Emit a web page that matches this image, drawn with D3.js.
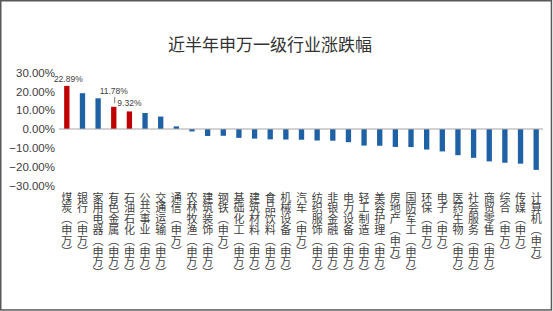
<!DOCTYPE html>
<html>
<head>
<meta charset="utf-8">
<script src="https://cdn.jsdelivr.net/npm/d3@7"></script>
<style>
  body { margin: 0; background: #fff; }
  svg { display: block; }
</style>
</head>
<body>
<svg width="553" height="311"></svg>
<script>
"use strict";
// industries, sorted by half-year return
let industries = ["煤炭", "银行", "家用电器", "有色金属", "石油石化", "公共事业", "交通运输", "通信",
    "农林牧渔", "建筑装饰", "钢铁", "基础化工", "建筑材料", "食品饮料", "机械设备", "汽车",
    "纺织服饰", "非银金融", "电力设备", "轻工制造", "美容护理", "房地产", "国防军工", "环保",
    "电子", "医药生物", "社会服务", "商贸零售", "综合", "传媒", "计算机"];
let returns = [22.89, 19.0, 16.3, 11.78, 9.32, 8.5, 6.6, 1.4,
    -1.3, -3.7, -3.6, -4.7, -5.1, -5.5, -5.6, -5.7,
    -6.1, -6.2, -7.0, -8.8, -8.9, -9.5, -9.6, -10.9,
    -11.9, -13.9, -15.3, -17.2, -17.9, -18.4, -21.7];
let highlighted = ["煤炭", "有色金属", "石油石化"];
let yTicks = [30, 20, 10, 0, -10, -20, -30];

let svg = d3.select("svg"),
    width = +svg.attr("width"),
    height = +svg.attr("height");

let data = industries.map((name, i) => ({ name: name, value: returns[i] }));

let x = d3.scaleBand().domain(industries).range([59, 544]).paddingInner(0.66).paddingOuter(0.33);
let y = d3.scaleLinear().domain([-30, 30]).range([185.5, 72.5]);

// frame
svg.append("rect")
    .attr("x", 0.75).attr("y", 0.75)
    .attr("width", width - 2.3).attr("height", height - 1.8)
    .attr("fill", "none").attr("stroke", "#595959").attr("stroke-width", 1.5);

svg.append("text")
    .attr("x", 270).attr("y", 43)
    .attr("text-anchor", "middle")
    .attr("dominant-baseline", "central")
    .style("font-family", "'Noto Sans CJK SC', sans-serif")
    .style("font-size", "17px")
    .attr("fill", "#333")
    .text("近半年申万一级行业涨跌幅");

// y axis, labels only
let yAxis = d3.axisLeft(y)
    .tickValues(yTicks)
    .tickSize(0)
    .tickPadding(0)
    .tickFormat(d => (d < 0 ? "\u2212" : "") + Math.abs(d).toFixed(2) + "%");
let ga = svg.append("g").attr("transform", "translate(55,0)").call(yAxis);
ga.select(".domain").remove();
ga.selectAll("text")
    .style("font-family", "'Liberation Sans', Arial, sans-serif")
    .style("font-size", "11.5px")
    .attr("fill", "#404040");

// bars
svg.append("g").selectAll("rect")
    .data(data)
    .enter().append("rect")
    .attr("x", d => x(d.name))
    .attr("width", x.bandwidth())
    .attr("y", d => y(Math.max(0, d.value)))
    .attr("height", d => Math.abs(y(d.value) - y(0)))
    .attr("fill", d => highlighted.includes(d.name) ? "#c00000" : "#1f61a5");

// zero line
svg.append("line")
    .attr("x1", 59).attr("x2", 543)
    .attr("y1", y(0)).attr("y2", y(0))
    .attr("stroke", "#a6a6a6").attr("stroke-width", 1);

// value labels for highlighted bars
let lab = data.filter(d => highlighted.includes(d.name));
let lift = { "煤炭": 3.4, "有色金属": 12.5, "石油石化": 5.7 };
svg.append("g").selectAll("text")
    .data(lab)
    .enter().append("text")
    .attr("x", d => x(d.name) + x.bandwidth() / 2 + (d.name === "煤炭" ? 1.5 : 0))
    .attr("y", d => y(d.value) - lift[d.name])
    .attr("text-anchor", "middle")
    .style("font-family", "'Liberation Sans', Arial, sans-serif")
    .style("font-size", "8.5px")
    .attr("fill", "#404040")
    .text(d => d.value.toFixed(2) + "%");

// leader line for the lifted label
let lifted = lab.find(d => d.name === "有色金属");
svg.append("line")
    .attr("x1", x(lifted.name) + x.bandwidth() / 2 + 1).attr("x2", x(lifted.name) + x.bandwidth() / 2 + 1)
    .attr("y1", y(lifted.value) - 10).attr("y2", y(lifted.value) - 3.5)
    .attr("stroke", "#595959").attr("stroke-width", 0.8);

// vertical category labels
svg.append("g").selectAll("text")
    .data(industries)
    .enter().append("text")
    .attr("x", d => x(d) + x.bandwidth() / 2)
    .attr("y", 192)
    .style("writing-mode", "vertical-rl")
    .style("font-family", "'Noto Sans CJK SC', sans-serif")
    .style("font-size", "11px")
    .style("letter-spacing", "-0.2px")
    .attr("fill", "#404040")
    .text(d => d + "（申万）");
</script>
</body>
</html>
